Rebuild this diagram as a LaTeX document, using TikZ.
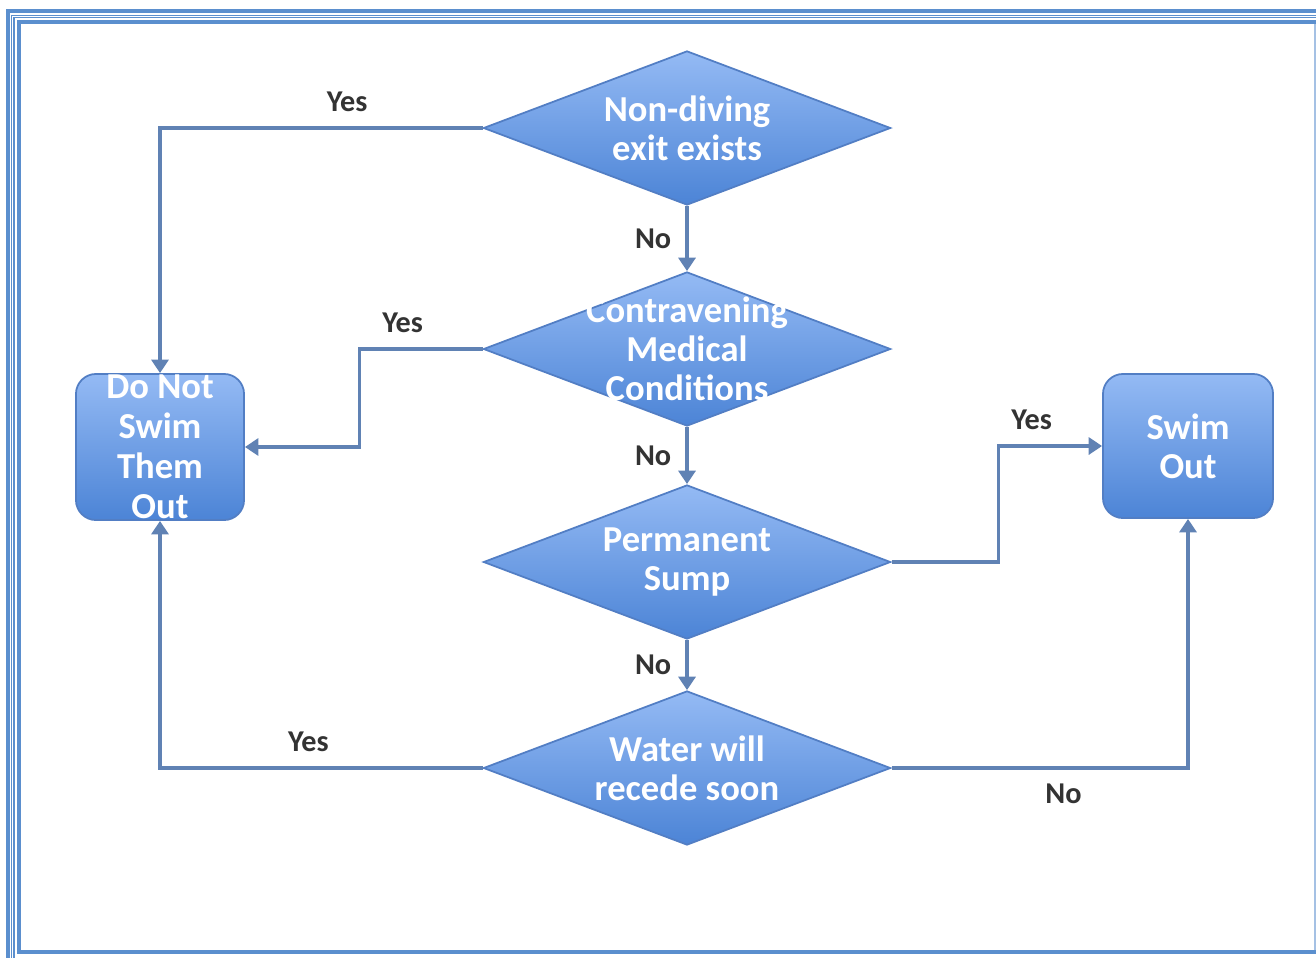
\documentclass[tikz,border=0pt]{standalone}
\usepackage{fontspec}
\setmainfont{Carlito}
\usetikzlibrary{positioning,shapes.geometric,arrows.meta}
\definecolor{framecol}{RGB}{91,143,206}
\definecolor{linecol}{RGB}{96,130,180}
\definecolor{shapetop}{RGB}{148,186,244}
\definecolor{shapebot}{RGB}{76,132,214}
\definecolor{shapeedge}{RGB}{82,126,196}
\tikzset{
  decision/.style={diamond, draw=shapeedge, line width=0.5pt, top color=shapetop, bottom color=shapebot, minimum width=4.07cm, minimum height=1.54cm, inner sep=0pt},
  outcome/.style={rectangle, rounded corners=0.2cm, draw=shapeedge, line width=0.5pt, top color=shapetop, bottom color=shapebot, minimum width=1.68cm, minimum height=1.46cm, inner sep=0pt},
  inside/.style={text=white, align=center, inner sep=0pt, font=\bfseries\fontsize{10.4}{11.1}\selectfont},
  flow/.style={draw=linecol, line width=1pt, -{Triangle[length=3.8pt,width=4.8pt]}},
  answer/.style={font=\bfseries\fontsize{8.6}{10}\selectfont, text=black!80, inner sep=1pt}
}

\begin{document}
\begin{tikzpicture}[x=0.01cm, y=-0.01cm]
\useasboundingbox (0,0) rectangle (1316,957);
\clip (0,0) rectangle (1316,957);

% page frame
\draw[framecol, line width=1.15pt] (8,11) rectangle (1345,990);
\draw[framecol, line width=0.35pt] (11.7,15.2) rectangle (1341,985);
\draw[framecol, line width=0.35pt] (14,17.8) rectangle (1338,980);
\draw[framecol, line width=1.15pt] (19,22) rectangle (1335,952);
\draw[framecol!55, line width=0.35pt] (1315,24) -- (1315,950);

% decisions
\node[decision] (exit) at (687,128) {};
\node[inside] at (exit) {Non-diving\\exit exists};

\node[decision] (medical) at (687,349) {};
\node[inside] at (medical) {Contravening\\Medical\\Conditions};

\node[decision] (sump) at (687,562) {};
\node[inside] at (sump) {Permanent\\Sump};

\node[decision] (recede) at (687,768) {};
\node[inside] at (recede) {Water will\\recede soon};

% outcomes
\node[outcome] (noswim) at (160,447) {};
\node[inside, font=\bfseries\fontsize{10.4}{11.4}\selectfont] at (noswim) {Do Not\\Swim\\Them\\Out};

\node[outcome, minimum width=1.7cm, minimum height=1.44cm] (swim) at (1188,446) {};
\node[inside] at (swim) {Swim\\Out};

% connectors
\draw[flow] (exit.west) -| node[answer, pos=.21, above=3pt] {Yes} (noswim.north);
\draw[flow] (exit.south) -- node[answer, left=3pt] {No} (medical.north);
\draw[flow] (medical.west) -- node[answer, pos=.65, above=3pt] {Yes} ++(-123,0) |- (noswim.east);
\draw[flow] (medical.south) -- node[answer, left=3pt] {No} (sump.north);
\draw[flow] (sump.east) -- ++(107,0) |- node[answer, pos=.66, above=3pt] {Yes} (swim.west);
\draw[flow] (sump.south) -- node[answer, left=3pt] {No} (recede.north);
\draw[flow] (recede.west) -| node[answer, pos=.27, above=3pt] {Yes} (noswim.south);
\draw[flow] (recede.east) -| node[answer, pos=.29, below=3pt] {No} (swim.south);

\end{tikzpicture}
\end{document}
